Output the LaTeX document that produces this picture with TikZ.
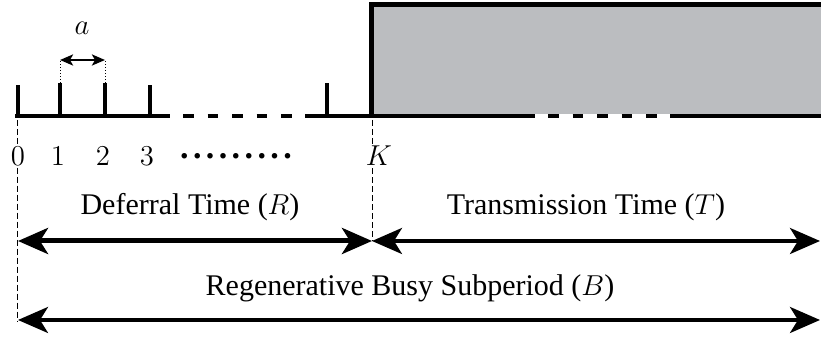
\documentclass[tikz,border=0pt]{standalone}
\usepackage{fontspec}
\setmainfont{Liberation Serif}
\usetikzlibrary{arrows.meta}
\definecolor{busygray}{RGB}{187,189,192}
\begin{document}
\begin{tikzpicture}[x=0.5pt,y=-0.5pt,
  lbl/.style={font=\fontsize{15}{18}\selectfont, inner sep=1pt},
  axisline/.style={line width=2pt},
  tickline/.style={line width=2.2pt},
  gapline/.style={line width=2pt, dash pattern=on 5.25pt off 7pt},
  guide/.style={line width=0.5pt, dash pattern=on 3pt off 1.5pt},
  pitch/.style={line width=0.5pt, densely dotted},
  bigtip/.tip={Stealth[length=15pt,width=13pt,inset=4pt]},
  span/.style={bigtip-bigtip},
]
\useasboundingbox (0,0) rectangle (821,340);

% transmission block
\fill[busygray] (372,5) rectangle (821,114);
\draw[line width=2.5pt] (371,116) -- (371,4.5) -- (821,4.5);

% reference points on the time axis
\coordinate (p0) at (18,116);
\coordinate (p1) at (60,116);
\coordinate (p2) at (105,116);
\coordinate (p3) at (150,116);
\coordinate (pk1) at (327,116);
\coordinate (q0) at (18,85);
\coordinate (q1) at (60,83);
\coordinate (q2) at (105,83);
\coordinate (q3) at (150,85);
\coordinate (qk1) at (327,83);
\coordinate (pk) at (372,116);

% time axis
\coordinate (ax0) at (15,116);
\coordinate (ax1) at (170,116);
\coordinate (ax2) at (183,116);
\coordinate (ax3) at (292,116);
\coordinate (ax4) at (305,116);
\coordinate (ax5) at (535,116);
\coordinate (ax6) at (548,116);
\coordinate (ax7) at (657,116);
\coordinate (ax8) at (670,116);
\coordinate (ax9) at (821,116);
\draw[axisline] (ax0) -- (ax1);
\draw[gapline] (ax2) -- (ax3);
\draw[axisline] (ax4) -- (pk) -- (ax5);
\draw[white, line width=2pt] (ax5) -- (ax8);
\draw[gapline] (ax6) -- (ax7);
\draw[axisline] (ax8) -- (ax9);

% slot boundaries
\foreach \i in {0,1,2,3,k1} \draw[tickline] (p\i) -- (q\i);

% slot length a
\coordinate (a1) at (60,60);
\coordinate (a2) at (105,60);
\draw[pitch] (q1) -- (a1);
\draw[pitch] (q2) -- (a2);
\draw[line width=1.2pt, {Stealth[length=6.5pt,width=5.5pt,inset=1.5pt]}-{Stealth[length=6.5pt,width=5.5pt,inset=1.5pt]}] (a1) -- (a2);
\node[lbl] (alab) at (82,28) {$a$};

% slot numbers
\node[lbl] (n0) at (18,156) {$0$};
\node[lbl] (n1) at (58,156) {$1$};
\node[lbl] (n2) at (103,156) {$2$};
\node[lbl] (n3) at (147,156) {$3$};
\node[lbl, font=\fontsize{17}{18}\bfseries] (ndots) at (236,156) {.\hspace{2.2pt}.\hspace{2.2pt}.\hspace{2.2pt}.\hspace{2.2pt}.\hspace{2.2pt}.\hspace{2.2pt}.\hspace{2.2pt}.\hspace{2.2pt}.};
\node[lbl] (nk) at (379,156) {$K$};

% vertical guides, interrupted by the labels 0 and K
\coordinate (g0) at (17,120);
\coordinate (g0b) at (17,322);
\coordinate (gk) at (372,120);
\coordinate (gkb) at (372,241);
\draw[guide] (g0) -- (g0 |- n0.north);
\draw[guide] (g0 |- n0.south) -- (g0b);
\draw[guide] (gk) -- (gk |- nk.north);
\draw[guide] (gk |- nk.south) -- (gkb);

% durations
\coordinate (r0) at (18,241);
\coordinate (t1) at (820,241);
\coordinate (b0) at (18,320);
\coordinate (b1) at (820,320);
\draw[line width=2.5pt, span] (r0) -- (gkb);
\draw[line width=1.8pt, span] (gkb) -- (t1);
\draw[line width=1.8pt, span] (b0) -- (b1);

\node[lbl] (lr) at (190,207) {Deferral Time ($R$)};
\node[lbl] (lt) at (586,207) {Transmission Time ($T$)};
\node[lbl] (lb) at (410,288) {Regenerative Busy Subperiod ($B$)};
\end{tikzpicture}
\end{document}
